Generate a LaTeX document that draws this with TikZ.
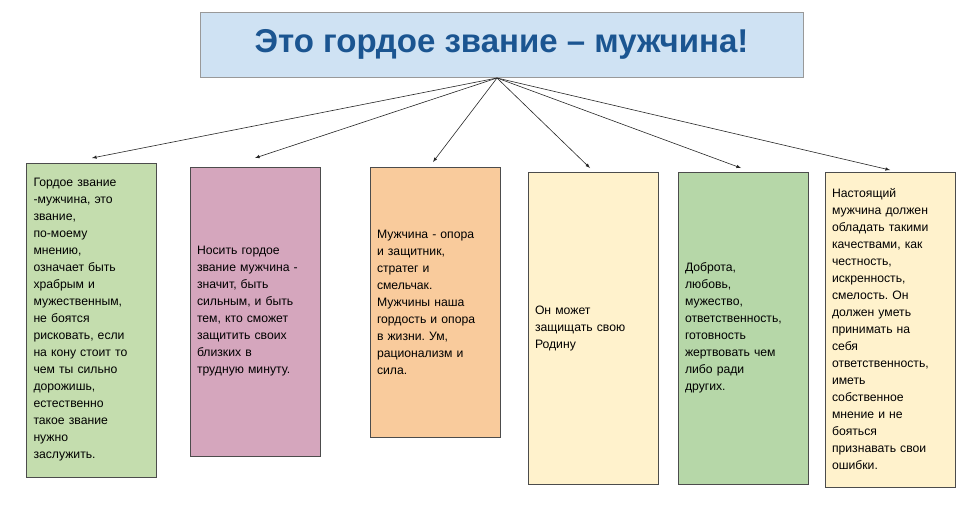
\documentclass[tikz,border=0pt]{standalone}
\usepackage{fontspec}
\setmainfont{Liberation Sans}
\frenchspacing
\definecolor{titlefill}{HTML}{CFE2F3}
\definecolor{titletext}{HTML}{1B5591}
\definecolor{boxgreen}{HTML}{C4DDAE}
\definecolor{boxpink}{HTML}{D5A6BD}
\definecolor{boxorange}{HTML}{F9CB9C}
\definecolor{boxyellow}{HTML}{FFF2CC}
\definecolor{boxgreenb}{HTML}{B6D7A8}
\tikzset{
  infobox/.style={draw=black!70, minimum width=130pt, text width=116pt,
    align=left, inner sep=6pt, font=\fontsize{12.2}{17}\selectfont},
  link/.style={-latex, black!85, semithick}
}
\begin{document}
\begin{tikzpicture}[x=1pt, y=-1pt]
\useasboundingbox (0,0) rectangle (969,507);
\node[draw=black!40, fill=titlefill, minimum width=603pt, minimum height=65pt,
  font=\bfseries\fontsize{33}{38}\selectfont, text=titletext] (title) at (501.5,44.5)
  {Это гордое звание – мужчина!};
\coordinate (hub) at (497,78);
\node[infobox, fill=boxgreen, minimum height=314pt] (manhood) at (91.5,320)
  {Гордое звание\\-мужчина, это\\звание,\\по-моему\\мнению,\\означает быть\\храбрым и\\мужественным,\\не боятся\\рисковать, если\\на кону стоит то\\чем ты сильно\\дорожишь,\\естественно\\такое звание\\нужно\\заслужить.};
\node[infobox, fill=boxpink, minimum height=289pt] (strength) at (255,311.5)
  {Носить гордое\\звание мужчина -\\значит, быть\\сильным, и быть\\тем, кто сможет\\защитить своих\\близких в\\трудную минуту.};
\node[infobox, fill=boxorange, minimum height=270pt] (support) at (435,302)
  {Мужчина - опора\\и защитник,\\стратег и\\смельчак.\\Мужчины наша\\гордость и опора\\в жизни. Ум,\\рационализм и\\сила.};
\node[infobox, fill=boxyellow, minimum height=312pt] (homeland) at (593,328)
  {Он может\\защищать свою\\Родину\\[-12pt]};
\node[infobox, fill=boxgreenb, minimum height=312pt] (kindness) at (743,328)
  {Доброта,\\любовь,\\мужество,\\ответственность,\\готовность\\жертвовать чем\\либо ради\\других.\\[40pt]};
\node[infobox, fill=boxyellow, minimum height=315pt] (qualities) at (890,329.5)
  {Настоящий\\мужчина должен\\обладать такими\\качествами, как\\честность,\\искренность,\\смелость. Он\\должен уметь\\принимать на\\себя\\ответственность,\\иметь\\собственное\\мнение и не\\бояться\\признавать свои\\ошибки.};
\foreach \target/\tx/\ty in {manhood/92/158, strength/255/158, support/433/162,
  homeland/590/168, kindness/741/168, qualities/890/170}
  \draw[link] (hub) -- (\tx,\ty);
\end{tikzpicture}
\end{document}
